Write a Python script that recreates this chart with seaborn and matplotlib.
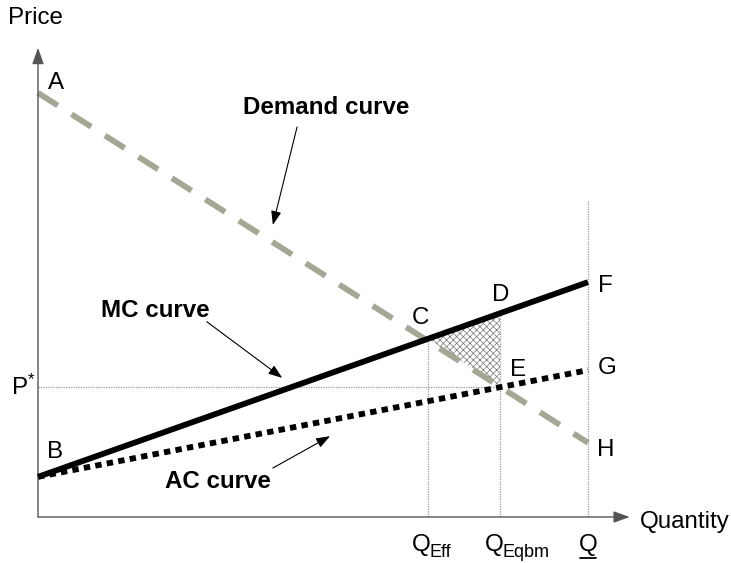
import numpy as np
import pandas as pd
import matplotlib
matplotlib.use("Agg")
import matplotlib.pyplot as plt
import seaborn as sns

# ---- data ----
quantity = [0.0, 10.0]
demand_price = [7.71, 1.35]
mc_price = [0.73, 4.27]
ac_price = [0.73, 2.67]
q_eff = 7.09
q_eqbm = 8.4
q_bar = 10.0
p_star = 2.36
q_top = 5.76          # top of the Q-bar reference line
x_axis_end = 10.76
y_axis_end = 8.53

point_labels = ["A", "B", "C", "D", "E", "F", "G", "H"]
point_pos = [(0.33, 7.89), (0.31, 1.18), (6.96, 3.62), (8.42, 4.04),
             (8.73, 2.67), (10.31, 4.20), (10.35, 2.71), (10.33, 1.22)]

sns.set_theme(style="white")
plt.rcParams['font.family'] = ['Liberation Sans', 'DejaVu Sans']
plt.rcParams['mathtext.fontset'] = 'custom'
plt.rcParams['mathtext.rm'] = 'Liberation Sans'
plt.rcParams['mathtext.it'] = 'Liberation Sans'
plt.rcParams['hatch.linewidth'] = 0.5
plt.rcParams['hatch.color'] = '#666666'
plt.rcParams['text.color'] = 'black'

fig = plt.figure(figsize=(7.31, 5.63), dpi=100)
ax = fig.add_axes([0, 0, 1, 1])
ax.set_xlim(-38 / 55, (731 - 38) / 55)
ax.set_ylim(-46 / 55, 517 / 55)
ax.axis('off')

df = pd.DataFrame({"Q": quantity, "Demand": demand_price, "MC": mc_price, "AC": ac_price})

# reference lines
ref_kw = dict(color='#999999', lw=0.9, linestyle=(0, (1, 1)))
mc_at_eff = np.interp(q_eff, quantity, mc_price)
mc_at_eqbm = np.interp(q_eqbm, quantity, mc_price)
ax.plot([q_eff, q_eff], [0, mc_at_eff], **ref_kw)
ax.plot([q_eqbm, q_eqbm], [0, mc_at_eqbm], **ref_kw)
ax.plot([q_bar, q_bar], [0, q_top], **ref_kw)
ax.plot([0, q_eqbm], [p_star, p_star], **ref_kw)

# hatched deadweight triangle
ax.fill([q_eff, q_eqbm, q_eqbm], [mc_at_eff, mc_at_eqbm, p_star],
        facecolor='white', edgecolor='#777777', hatch='xxxxx', lw=0, zorder=1)

# curves
lw = 4.2
sns.lineplot(data=df, x="Q", y="Demand", ax=ax, color='#a3a895', lw=lw,
             linestyle=(0, (4.0, 2.8)), solid_capstyle='butt', dash_capstyle='butt',
             estimator=None, sort=False, zorder=3)
sns.lineplot(data=df, x="Q", y="AC", ax=ax, color='black', lw=lw,
             linestyle=(0, (1.1, 0.9)), dash_capstyle='butt',
             estimator=None, sort=False, zorder=3)
sns.lineplot(data=df, x="Q", y="MC", ax=ax, color='black', lw=lw,
             solid_capstyle='butt', estimator=None, sort=False, zorder=4)

# axes with arrows
axis_kw = dict(arrowstyle='-|>,head_length=0.7,head_width=0.25', mutation_scale=14,
               lw=1.0, color='#555555', shrinkA=0, shrinkB=0)
ax.annotate('', xy=(x_axis_end, 0), xytext=(0, 0), arrowprops=axis_kw)
ax.annotate('', xy=(0, y_axis_end), xytext=(0, 0), arrowprops=axis_kw)

fs = 17.4
sub_fs = 13.0
ax.text(-0.545, 9.07, "Price", fontsize=fs, ha='left', va='center')
ax.text(10.95, -0.09, "Quantity", fontsize=fs, ha='left', va='center')
ax.text(-0.27, p_star, r"P$^{*}$", fontsize=fs, ha='center', va='center')
ax.text(6.80, -0.51, "Q", fontsize=fs, ha='left', va='center')
ax.text(7.11, -0.64, "Eff", fontsize=sub_fs, ha='left', va='center')
ax.text(8.13, -0.51, "Q", fontsize=fs, ha='left', va='center')
ax.text(8.44, -0.64, "Eqbm", fontsize=sub_fs, ha='left', va='center')
ax.text(q_bar, -0.51, "Q", fontsize=fs, ha='center', va='center')
ax.plot([q_bar - 0.15, q_bar + 0.15], [-0.74, -0.74], color='black', lw=1.3)

for lab, (x, y) in zip(point_labels, point_pos):
    ax.text(x, y, lab, fontsize=fs, ha='center', va='center')

# curve annotations
arr_kw = dict(arrowstyle='-|>,head_length=0.6,head_width=0.22', mutation_scale=14,
              lw=0.8, color='black', shrinkA=0, shrinkB=0)
ax.text(5.24, 7.45, "Demand curve", fontsize=fs, fontweight='bold', ha='center', va='center')
ax.annotate('', xy=(4.27, 5.31), xytext=(4.71, 7.09), arrowprops=arr_kw)
ax.text(2.13, 3.76, "MC curve", fontsize=fs, fontweight='bold', ha='center', va='center')
ax.annotate('', xy=(4.44, 2.53), xytext=(3.07, 3.55), arrowprops=arr_kw)
ax.text(3.27, 0.65, "AC curve", fontsize=fs, fontweight='bold', ha='center', va='center')
ax.annotate('', xy=(5.31, 1.47), xytext=(4.27, 0.89), arrowprops=arr_kw)

fig.savefig("out.png", dpi=100)
